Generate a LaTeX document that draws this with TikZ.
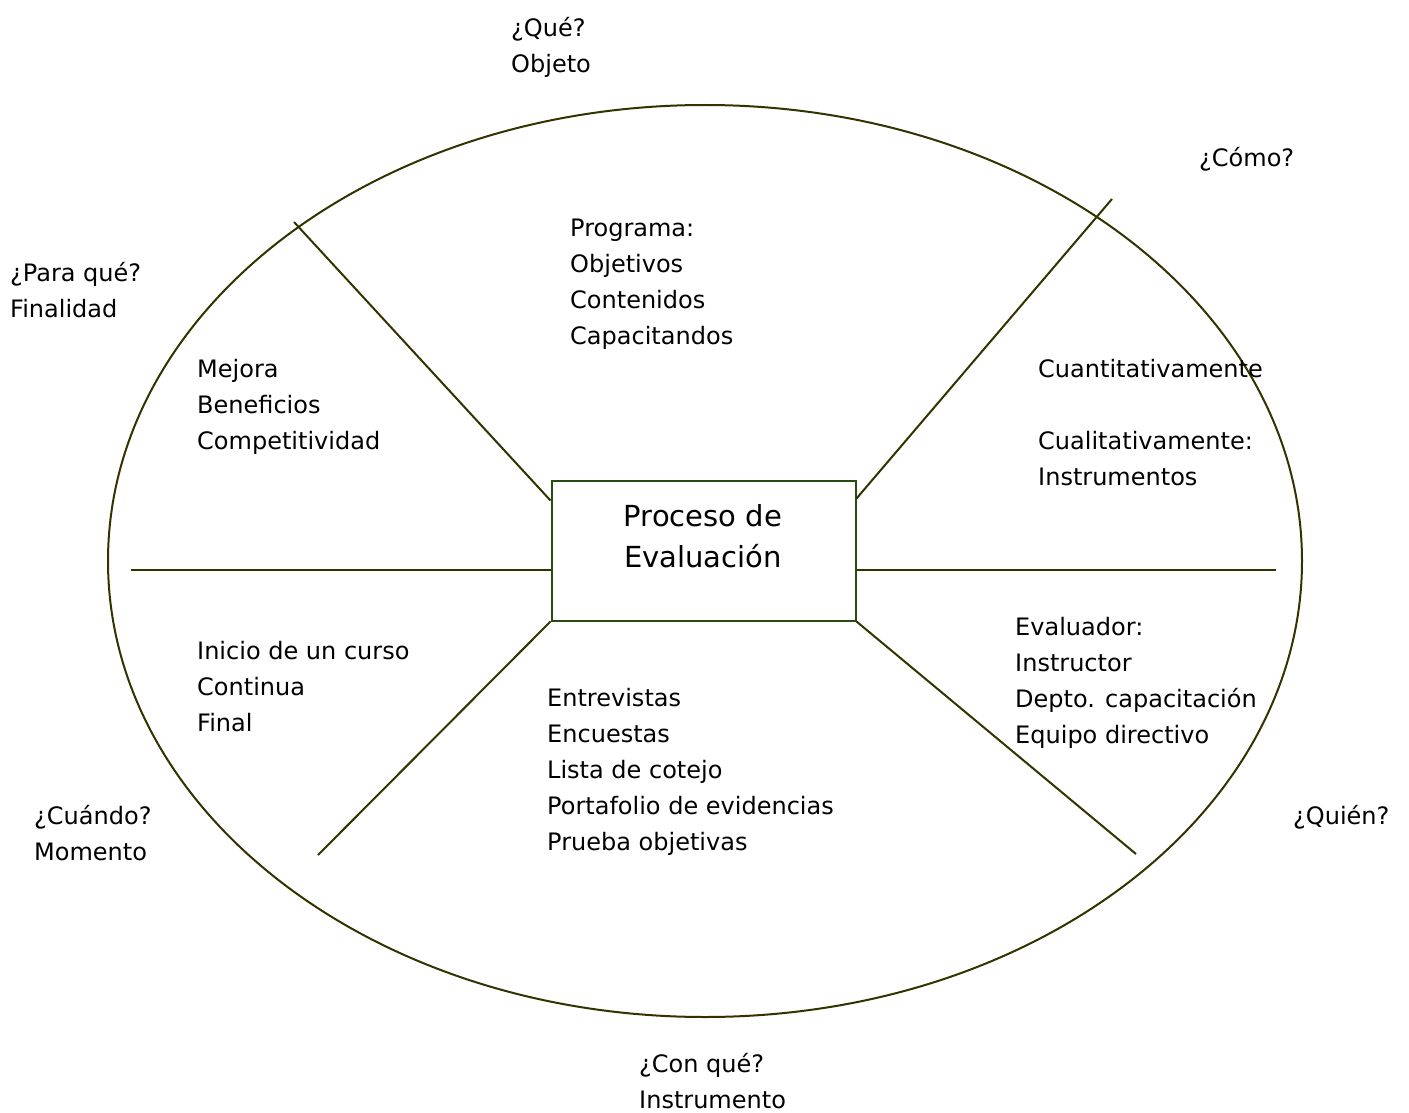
\documentclass[tikz,border=0pt]{standalone}
\usepackage{fontspec}
\setmainfont{DejaVu Sans}
\usetikzlibrary{calc}
\definecolor{linecol}{RGB}{51,51,0}
\definecolor{boxcol}{RGB}{38,76,18}
\tikzset{
  txt/.style={anchor=north west,inner sep=0pt,align=left,font=\fontsize{24}{36}\selectfont},
  conn/.style={draw=linecol,line width=2pt},
  procbox/.style={draw=boxcol,line width=2pt,minimum width=304pt,minimum height=140pt,inner sep=0pt},
  proctxt/.style={inner sep=0pt,align=center,font=\fontsize{29}{41}\selectfont}
}
\begin{document}
\begin{tikzpicture}[x=1pt,y=-1pt]
\useasboundingbox (0,0) rectangle (1409,1113);
\draw[linecol,line width=2pt] (705,561) ellipse [x radius=597pt, y radius=456pt];
\node[procbox] (proc) at (703.5,550.5) {};
\node[proctxt] (proctext) at (703,536) {Proceso de\\Evaluación};
% outer ends
\coordinate (ul) at (294,222);
\coordinate (ur) at (1112,199);
\coordinate (l) at (131,570);
\coordinate (r) at (1276,570);
\coordinate (ll) at (318,855);
\coordinate (lr) at (1136,854);
\draw[conn] (ul) -- ($(proc.north west)+(0,21)$);
\draw[conn] (ur) -- ($(proc.north east)+(0,19)$);
\draw[conn] (l) -- (proc.west |- l);
\draw[conn] (r) -- (proc.east |- r);
\draw[conn] (ll) -- (proc.south west);
\draw[conn] (lr) -- (proc.south east);
% texts
\node[txt] (que) at (511,11) {\strut¿Qué?\\\strut Objeto};
\node[txt] (como) at (1199,141) {\strut¿Cómo?};
\node[txt] (paraque) at (10,256) {\strut¿Para qué?\\\strut Finalidad};
\node[txt] (programa) at (570,211) {\strut Programa:\\\strut Objetivos\\\strut Contenidos\\\strut Capacitandos};
\node[txt] (mejora) at (197,352) {\strut Mejora\\\strut Beneficios\\\strut Competitividad};
\node[txt] (cuanti) at (1038,352) {\strut Cuantitativamente\\\strut\\\strut Cualitativamente:\\\strut Instrumentos};
\node[txt] (inicio) at (197,634) {\strut Inicio de un curso\\\strut Continua\\\strut Final};
\node[txt] (entrev) at (547,681) {\strut Entrevistas\\\strut Encuestas\\\strut Lista de cotejo\\\strut Portafolio de evidencias\\\strut Prueba objetivas};
\node[txt] (evaluador) at (1015,610) {\strut Evaluador:\\\strut Instructor\\\strut Depto. capacitación\\\strut Equipo directivo};
\node[txt] (cuando) at (34,799) {\strut¿Cuándo?\\\strut Momento};
\node[txt] (quien) at (1293,799) {\strut¿Quién?};
\node[txt] (conque) at (639,1047) {\strut¿Con qué?\\\strut Instrumento};
\end{tikzpicture}
\end{document}
